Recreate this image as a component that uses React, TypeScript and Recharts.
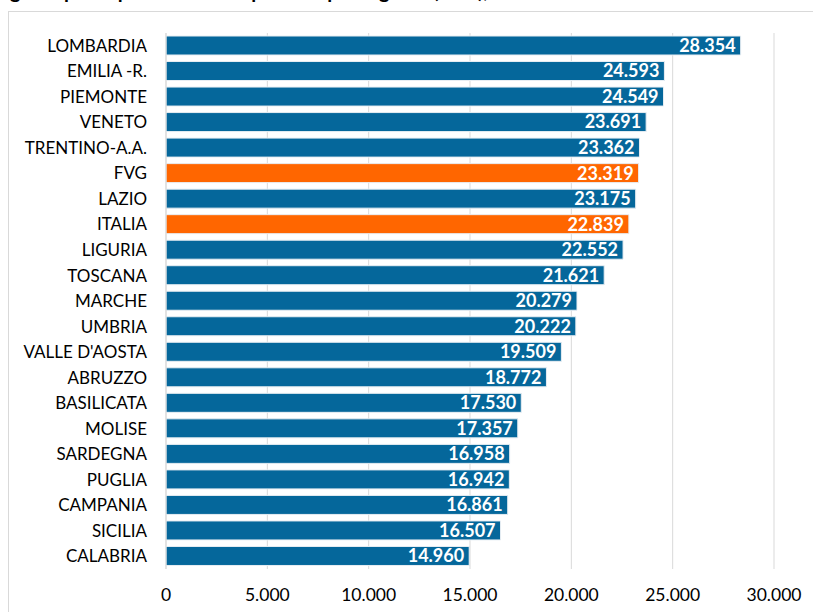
import { BarChart, Bar, XAxis, YAxis, CartesianGrid, Cell, LabelList } from 'recharts';

const regions = [
  'LOMBARDIA', 'EMILIA -R.', 'PIEMONTE', 'VENETO', 'TRENTINO-A.A.', 'FVG', 'LAZIO',
  'ITALIA', 'LIGURIA', 'TOSCANA', 'MARCHE', 'UMBRIA', "VALLE D'AOSTA", 'ABRUZZO',
  'BASILICATA', 'MOLISE', 'SARDEGNA', 'PUGLIA', 'CAMPANIA', 'SICILIA', 'CALABRIA',
];
const values = [
  28354, 24593, 24549, 23691, 23362, 23319, 23175,
  22839, 22552, 21621, 20279, 20222, 19509, 18772,
  17530, 17357, 16958, 16942, 16861, 16507, 14960,
];
const highlighted = ['FVG', 'ITALIA'];
const xTicks = [0, 5000, 10000, 15000, 20000, 25000, 30000];

const BLUE = '#05679b';
const ORANGE = '#ff6600';

const fmt = (v: number) => String(v).replace(/\B(?=(\d{3})+(?!\d))/g, '.');

const data = regions.map((name, i) => ({ name, value: values[i] }));

export default function App() {
  return (
    <div style={{ position: 'absolute', left: 0, top: 0, width: 813, height: 612, overflow: 'hidden', background: '#fff' }}>
      {/* title sits above the crop, only its descenders show */}
      <div
        style={{
          position: 'absolute', left: 10, top: -22, whiteSpace: 'nowrap',
          fontFamily: 'Lato, sans-serif', fontWeight: 700, fontSize: 20, color: '#000',
        }}
      >
        gione per capita reddito disponibile per regione (euro), 2022
      </div>
      <div
        style={{
          position: 'absolute', left: 8, top: 11, width: 820, height: 620,
          border: '1px solid #d9d9d9', boxSizing: 'border-box',
        }}
      />
      <div style={{ position: 'absolute', left: 0, top: 0 }}>
        <BarChart
          width={813}
          height={612}
          data={data}
          layout="vertical"
          margin={{ top: 33, right: 39, bottom: 0, left: 16 }}
          barSize={19}
        >
          <CartesianGrid horizontal={false} stroke="#d9d9d9" strokeWidth={1} />
          <XAxis
            type="number"
            domain={[0, 30000]}
            ticks={xTicks}
            tickFormatter={fmt}
            axisLine={false}
            tickLine={false}
            height={43}
            tickMargin={14}
            tick={{ fill: '#000', fontSize: 17.5, fontFamily: 'Lato, sans-serif' }}
            interval={0}
          />
          <YAxis
            type="category"
            dataKey="name"
            width={150}
            axisLine={{ stroke: '#d9d9d9' }}
            tickLine={false}
            tickSize={0}
            tickMargin={19}
            interval={0}
            tick={{ fill: '#000', fontSize: 17, fontFamily: 'Lato, sans-serif' }}
          />
          <Bar dataKey="value" isAnimationActive={false} stroke="#e8eef3" strokeWidth={1}>
            {data.map((d) => (
              <Cell key={d.name} fill={highlighted.includes(d.name) ? ORANGE : BLUE} />
            ))}
            <LabelList
              dataKey="value"
              position="insideRight"
              offset={5}
              formatter={(v: number) => fmt(v)}
              style={{ fill: '#fff', fontWeight: 700, fontSize: 18, fontFamily: 'Lato, sans-serif' }}
            />
          </Bar>
        </BarChart>
      </div>
    </div>
  );
}
